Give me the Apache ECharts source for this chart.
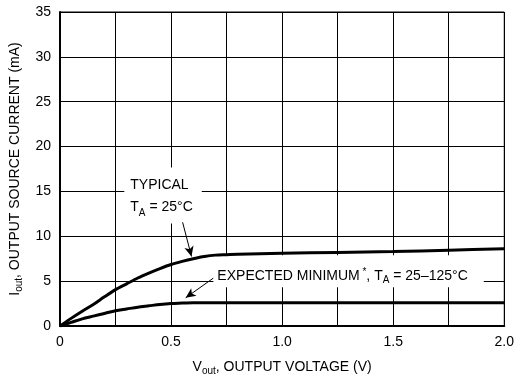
<!DOCTYPE html>
<html>
<head>
<meta charset="utf-8">
<script src="https://cdn.jsdelivr.net/npm/echarts@6/dist/echarts.min.js"></script>
<style>
  html, body { margin: 0; padding: 0; background: #fff; }
  #chart { width: 517px; height: 381px; }
</style>
</head>
<body>
<div id="chart"></div>
<script>
// Output source current vs. output voltage
const FONT = "'Liberation Sans', Arial, Helvetica, sans-serif";

// Typical curve, TA = 25 °C
const typicalVolts = [0, 0.05, 0.1, 0.15, 0.2, 0.25, 0.3, 0.35, 0.4, 0.45, 0.5, 0.55, 0.6, 0.65, 0.7, 0.75, 0.8, 1.0, 1.25, 1.5, 1.75, 2.0];
const typicalMilliamps = [0, 0.85, 1.65, 2.4, 3.25, 4.05, 4.7, 5.35, 5.9, 6.4, 6.85, 7.2, 7.5, 7.75, 7.9, 7.95, 8.0, 8.1, 8.2, 8.3, 8.45, 8.6];

// Expected minimum curve, TA = 25–125 °C
const minimumVolts = [0, 0.05, 0.1, 0.15, 0.2, 0.25, 0.3, 0.35, 0.4, 0.45, 0.5, 0.55, 0.6, 0.7, 1.0, 1.5, 2.0];
const minimumMilliamps = [0, 0.4, 0.8, 1.1, 1.4, 1.7, 1.9, 2.1, 2.25, 2.4, 2.5, 2.55, 2.6, 2.6, 2.6, 2.6, 2.6];

// Axis tick values
const xTicks = [0, 0.5, 1.0, 1.5, 2.0];
const yTicks = [0, 5, 10, 15, 20, 25, 30, 35];

const zip = (xs, ys) => xs.map((x, i) => [x, ys[i]]);

const chart = echarts.init(document.getElementById('chart'), null, { renderer: 'canvas' });

const subRich = {
  main: { fontFamily: FONT, fontSize: 14, color: '#000', lineHeight: 18 },
  sub: { fontFamily: FONT, fontSize: 10, color: '#000', lineHeight: 10, verticalAlign: 'bottom' }
};

const option = {
  backgroundColor: '#fff',
  animation: false,
  grid: { left: 58, right: 10, top: 12, bottom: 55, show: true, borderColor: '#000', borderWidth: 1 },
  xAxis: {
    type: 'value',
    min: xTicks[0],
    max: xTicks[xTicks.length - 1],
    interval: 0.5,
    name: '{main|V}{sub|out}{main|, OUTPUT VOLTAGE (V)}',
    nameLocation: 'middle',
    nameGap: 32,
    nameTextStyle: { rich: subRich },
    axisLine: { show: true, lineStyle: { color: '#000', width: 2 } },
    axisTick: { show: false },
    axisLabel: {
      color: '#000', fontFamily: FONT, fontSize: 14, margin: 9,
      formatter: v => (v === 0 ? '0' : v.toFixed(1))
    },
    splitLine: { show: true, lineStyle: { color: '#000', width: 1 } },
    minorTick: { show: false, splitNumber: 2 },
    minorSplitLine: { show: true, lineStyle: { color: '#000', width: 1 } }
  },
  yAxis: {
    type: 'value',
    min: yTicks[0],
    max: yTicks[yTicks.length - 1],
    interval: 5,
    name: '{main|I}{sub|out}{main|, OUTPUT SOURCE CURRENT (mA)}',
    nameLocation: 'middle',
    nameGap: 36,
    nameTextStyle: { rich: subRich },
    axisLine: { show: true, lineStyle: { color: '#000', width: 2 } },
    axisTick: { show: false },
    axisLabel: { color: '#000', fontFamily: FONT, fontSize: 14, margin: 9 },
    splitLine: { show: true, lineStyle: { color: '#000', width: 1 } }
  },
  series: [
    {
      name: 'Typical',
      type: 'line',
      data: zip(typicalVolts, typicalMilliamps),
      smooth: 0.3,
      showSymbol: false,
      z: 3,
      lineStyle: { color: '#000', width: 3 },
      markLine: {
        silent: true,
        symbol: ['none', 'arrow'],
        symbolSize: [7, 10],
        label: { show: false },
        lineStyle: { color: '#000', width: 1, type: 'solid' },
        data: [
          [{ coord: [0.552, 11.56] }, { coord: [0.592, 7.75] }],
          [{ coord: [0.69, 5.33] }, { coord: [0.566, 3.15] }]
        ]
      }
    },
    {
      name: 'Expected minimum',
      type: 'line',
      data: zip(minimumVolts, minimumMilliamps),
      smooth: 0.3,
      showSymbol: false,
      z: 3,
      lineStyle: { color: '#000', width: 3 }
    }
  ]
};

chart.setOption(option);

// Annotation labels placed in data coordinates, on white boxes over the grid
const typicalBox = chart.convertToPixel({ gridIndex: 0 }, [0.2895, 17.67]);
const minimumBox = chart.convertToPixel({ gridIndex: 0 }, [0.6904, 7.89]);

chart.setOption({
  graphic: [
    {
      type: 'text',
      z: 1,
      x: typicalBox[0],
      y: typicalBox[1],
      style: {
        text: '{main|TYPICAL}\n{main|T}{sub|A}{main| = 25°C}',
        rich: {
          main: { fontFamily: FONT, fontSize: 14, fill: '#000', lineHeight: 22 },
          sub: { fontFamily: FONT, fontSize: 10, fill: '#000', lineHeight: 14, verticalAlign: 'bottom' }
        },
        backgroundColor: '#fff',
        padding: [7, 9, 5, 6]
      }
    },
    {
      type: 'text',
      z: 1,
      x: minimumBox[0],
      y: minimumBox[1],
      style: {
        text: '{main|EXPECTED MINIMUM}{star| *}{main|, T}{sub|A}{main| = 25–125°C}',
        rich: {
          main: { fontFamily: FONT, fontSize: 14, fill: '#000', lineHeight: 18 },
          star: { fontFamily: FONT, fontSize: 10, fill: '#000', lineHeight: 18, verticalAlign: 'top' },
          sub: { fontFamily: FONT, fontSize: 10, fill: '#000', lineHeight: 12, verticalAlign: 'bottom' }
        },
        backgroundColor: '#fff',
        padding: [12, 16, 2, 4]
      }
    }
  ]
});
</script>
</body>
</html>
